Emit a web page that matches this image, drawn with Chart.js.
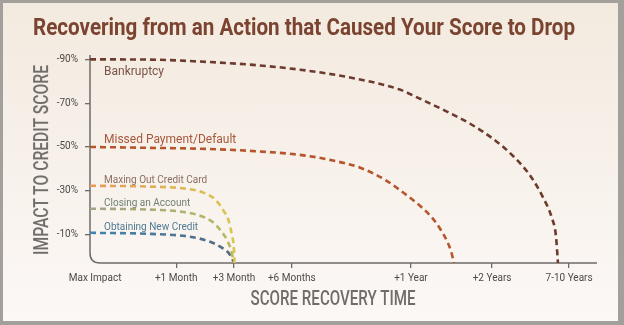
<!DOCTYPE html>
<html>
<head>
<meta charset="utf-8">
<script src="https://cdn.jsdelivr.net/npm/chart.js@4.4.1/dist/chart.umd.min.js"></script>
<style>
  html, body { margin: 0; padding: 0; }
  body { width: 624px; height: 325px; background: #a3a09c; position: relative; overflow: hidden; }
  #panel { position: absolute; left: 3px; top: 3px; width: 615px; height: 318px; background: linear-gradient(#f3eadf, #fcf8f6); }
  #title { position: absolute; left: 30px; top: 11px; white-space: nowrap; font: bold 23px Roboto, sans-serif; color: #7b4431; transform-origin: 0 0; }
  #ytitle { position: absolute; white-space: nowrap; font: 500 21px Roboto, sans-serif; color: #6f6c69; line-height: 24px; }
  #xtitle { position: absolute; white-space: nowrap; font: 500 20px Roboto, sans-serif; color: #6f6c69; line-height: 24px; }
  canvas { position: absolute; left: 0; top: 0; }
</style>
</head>
<body>
<div id="panel">
  <canvas id="recoveryChart" width="615" height="318"></canvas>
  <div id="title">Recovering from an Action that Caused Your Score to Drop</div>
  <div id="ytitle">IMPACT TO CREDIT SCORE</div>
  <div id="xtitle">SCORE RECOVERY TIME</div>
</div>
<script>
// Axis ticks (x is a made-up 0-100 "time" scale, the picture is not to scale)
const xTickValues = [1, 17, 28.4, 39.8, 63.3, 79.3, 94.5];
const xTickLabels = ['Max Impact', '+1 Month', '+3 Month', '+6 Months', '+1 Year', '+2 Years', '7-10 Years'];
const yTickValues = [-90, -70, -50, -30, -10];

// Curves
const seriesNames = ['Bankruptcy', 'Missed Payment/Default', 'Maxing Out Credit Card', 'Closing an Account', 'Obtaining New Credit'];
const bankruptcyX = [0, 11.8, 21.7, 31.6, 41.4, 51.3, 61.1, 65.1, 70.0, 75.0, 79.5, 83.4, 87.0, 89.5, 91.1, 91.9, 92.3];
const bankruptcyY = [-90, -89.9, -89, -87.6, -85.3, -81.7, -76.2, -72, -66.6, -60.6, -53.7, -46, -36.3, -26.3, -17.6, -9.4, 3];
const missedX = [0, 11.8, 21.7, 31.6, 41.4, 47.3, 53.3, 58.2, 62.1, 65.1, 67.5, 69.2, 70.4, 71.2, 71.8];
const missedY = [-50, -49.6, -49.2, -48.2, -46.4, -44.1, -40.5, -35, -28.6, -23.1, -17.6, -12.1, -7.1, -2.5, 3];
const maxingX = [0, 11.8, 18.7, 22.3, 24.7, 26.2, 27.4, 28.0, 28.4, 28.5];
const maxingY = [-32.3, -31.9, -31, -29.2, -26, -21.4, -15.9, -9.5, -3.1, 3];
const closingX = [0, 11.8, 17.8, 21.7, 24.1, 25.8, 27.0, 27.8, 28.4];
const closingY = [-21.8, -21.4, -20.5, -18.6, -15.9, -11.8, -7.6, -3.1, 3];
const obtainingX = [0, 11.8, 19.7, 23.7, 26.0, 27.6, 28.4];
const obtainingY = [-10.8, -10.3, -9, -6.7, -4, -0.8, 3];

const labelColors = ['#7b5246', '#a6573c', '#8a6d64', '#6f7f70', '#4d7a92'];
const labelFonts = ['12px Roboto', '12px Roboto', '10px Roboto', '10px Roboto', '10px Roboto'];
const labelOffsets = [16, -4, -3, -3, -3];

function toPoints(xs, ys) {
    return xs.map((x, i) => ({ x: x, y: ys[i] }));
}

// gradient along the short curves
function gradientColor(from, to) {
    return function (ctx) {
        const chart = ctx.chart;
        if (!chart.chartArea) return from;
        const xs = chart.scales.x;
        const g = chart.ctx.createLinearGradient(xs.getPixelForValue(0), 0, xs.getPixelForValue(28.4), 0);
        g.addColorStop(0, from);
        g.addColorStop(1, to);
        return g;
    };
}

// rounded corner axis
const axisLines = {
    id: 'axisLines',
    beforeDatasetsDraw(chart) {
        const { ctx, chartArea } = chart;
        const r = 10;
        ctx.save();
        ctx.strokeStyle = '#6d6b69';
        ctx.lineWidth = 1.5;
        ctx.beginPath();
        ctx.moveTo(chartArea.left, chartArea.top);
        ctx.lineTo(chartArea.left, chartArea.bottom - r);
        ctx.quadraticCurveTo(chartArea.left, chartArea.bottom, chartArea.left + r, chartArea.bottom);
        ctx.lineTo(chartArea.right, chartArea.bottom);
        ctx.stroke();
        ctx.restore();
    }
};

const curveLabels = {
    id: 'curveLabels',
    afterDatasetsDraw(chart) {
        const { ctx } = chart;
        const xs = chart.scales.x, ys = chart.scales.y;
        ctx.save();
        ctx.textBaseline = 'alphabetic';
        chart.data.datasets.forEach((ds, i) => {
            ctx.font = labelFonts[i];
            ctx.fillStyle = labelColors[i];
            ctx.fillText(ds.label, xs.getPixelForValue(0) + 14, ys.getPixelForValue(ds.data[0].y) + labelOffsets[i]);
        });
        ctx.restore();
    }
};

function curve(name, points, color) {
    return {
        label: name,
        data: points,
        borderColor: color,
        borderWidth: 2.6,
        borderDash: [6, 4],
        pointRadius: 0,
        cubicInterpolationMode: 'monotone',
        fill: false,
        clip: false
    };
}

const tickFont = { family: 'Roboto, sans-serif', size: 10 };

const chart = new Chart(document.getElementById('recoveryChart').getContext('2d'), {
    type: 'line',
    data: {
        datasets: [
            curve(seriesNames[0], toPoints(bankruptcyX, bankruptcyY), '#6c3b2d'),
            curve(seriesNames[1], toPoints(missedX, missedY), '#b5552c'),
            curve(seriesNames[2], toPoints(maxingX, maxingY), gradientColor('#e79a5c', '#d8c64e')),
            curve(seriesNames[3], toPoints(closingX, closingY), gradientColor('#a3a38e', '#b3bb5a')),
            curve(seriesNames[4], toPoints(obtainingX, obtainingY), gradientColor('#3f86b4', '#56687e'))
        ]
    },
    options: {
        responsive: false,
        animation: false,
        layout: { padding: { top: 52, right: 21, bottom: 0, left: 0 } },
        plugins: {
            legend: { display: false },
            tooltip: { enabled: false }
        },
        scales: {
            x: {
                type: 'linear',
                min: 0,
                max: 100,
                afterBuildTicks: (scale) => { scale.ticks = xTickValues.map(v => ({ value: v })); },
                afterFit: (scale) => { scale.height = 58; },
                border: { display: false },
                grid: {
                    drawOnChartArea: false,
                    tickLength: 5,
                    color: (ctx) => ctx.index === 0 ? 'rgba(0,0,0,0)' : '#6d6b69',
                    lineWidth: 1.3
                },
                ticks: {
                    autoSkip: false,
                    maxRotation: 0,
                    padding: 4,
                    color: '#4c4a48',
                    font: tickFont,
                    callback: (v, i) => xTickLabels[i]
                }
            },
            y: {
                type: 'linear',
                reverse: true,
                min: -92,
                max: 3,
                afterBuildTicks: (scale) => { scale.ticks = yTickValues.map(v => ({ value: v })); },
                afterFit: (scale) => { scale.width = 87; },
                border: { display: false },
                grid: { drawOnChartArea: false, tickLength: 5, color: '#6d6b69', lineWidth: 1.3 },
                ticks: {
                    padding: 7,
                    color: '#4c4a48',
                    font: tickFont,
                    callback: (v) => v + '%'
                }
            }
        }
    },
    plugins: [axisLines, curveLabels]
});

// squeeze the titles to the width they have in the picture (condensed face)
function fitWidth(el, width) {
    const w = el.getBoundingClientRect().width;
    return width / w;
}
const title = document.getElementById('title');
title.style.transform = 'scaleX(' + fitWidth(title, 542) + ')';

const xTitle = document.getElementById('xtitle');
const sx = fitWidth(xTitle, 165);
const xw = xTitle.getBoundingClientRect().width;
xTitle.style.left = (330 - xw / 2) + 'px';
xTitle.style.top = (295 - 12) + 'px';
xTitle.style.transform = 'scaleX(' + sx + ')';

const yTitle = document.getElementById('ytitle');
const sy = fitWidth(yTitle, 190);
const yw = yTitle.getBoundingClientRect().width;
yTitle.style.left = (38 - yw / 2) + 'px';
yTitle.style.top = (157 - 12) + 'px';
yTitle.style.transform = 'rotate(-90deg) scaleX(' + sy + ')';
</script>
</body>
</html>
